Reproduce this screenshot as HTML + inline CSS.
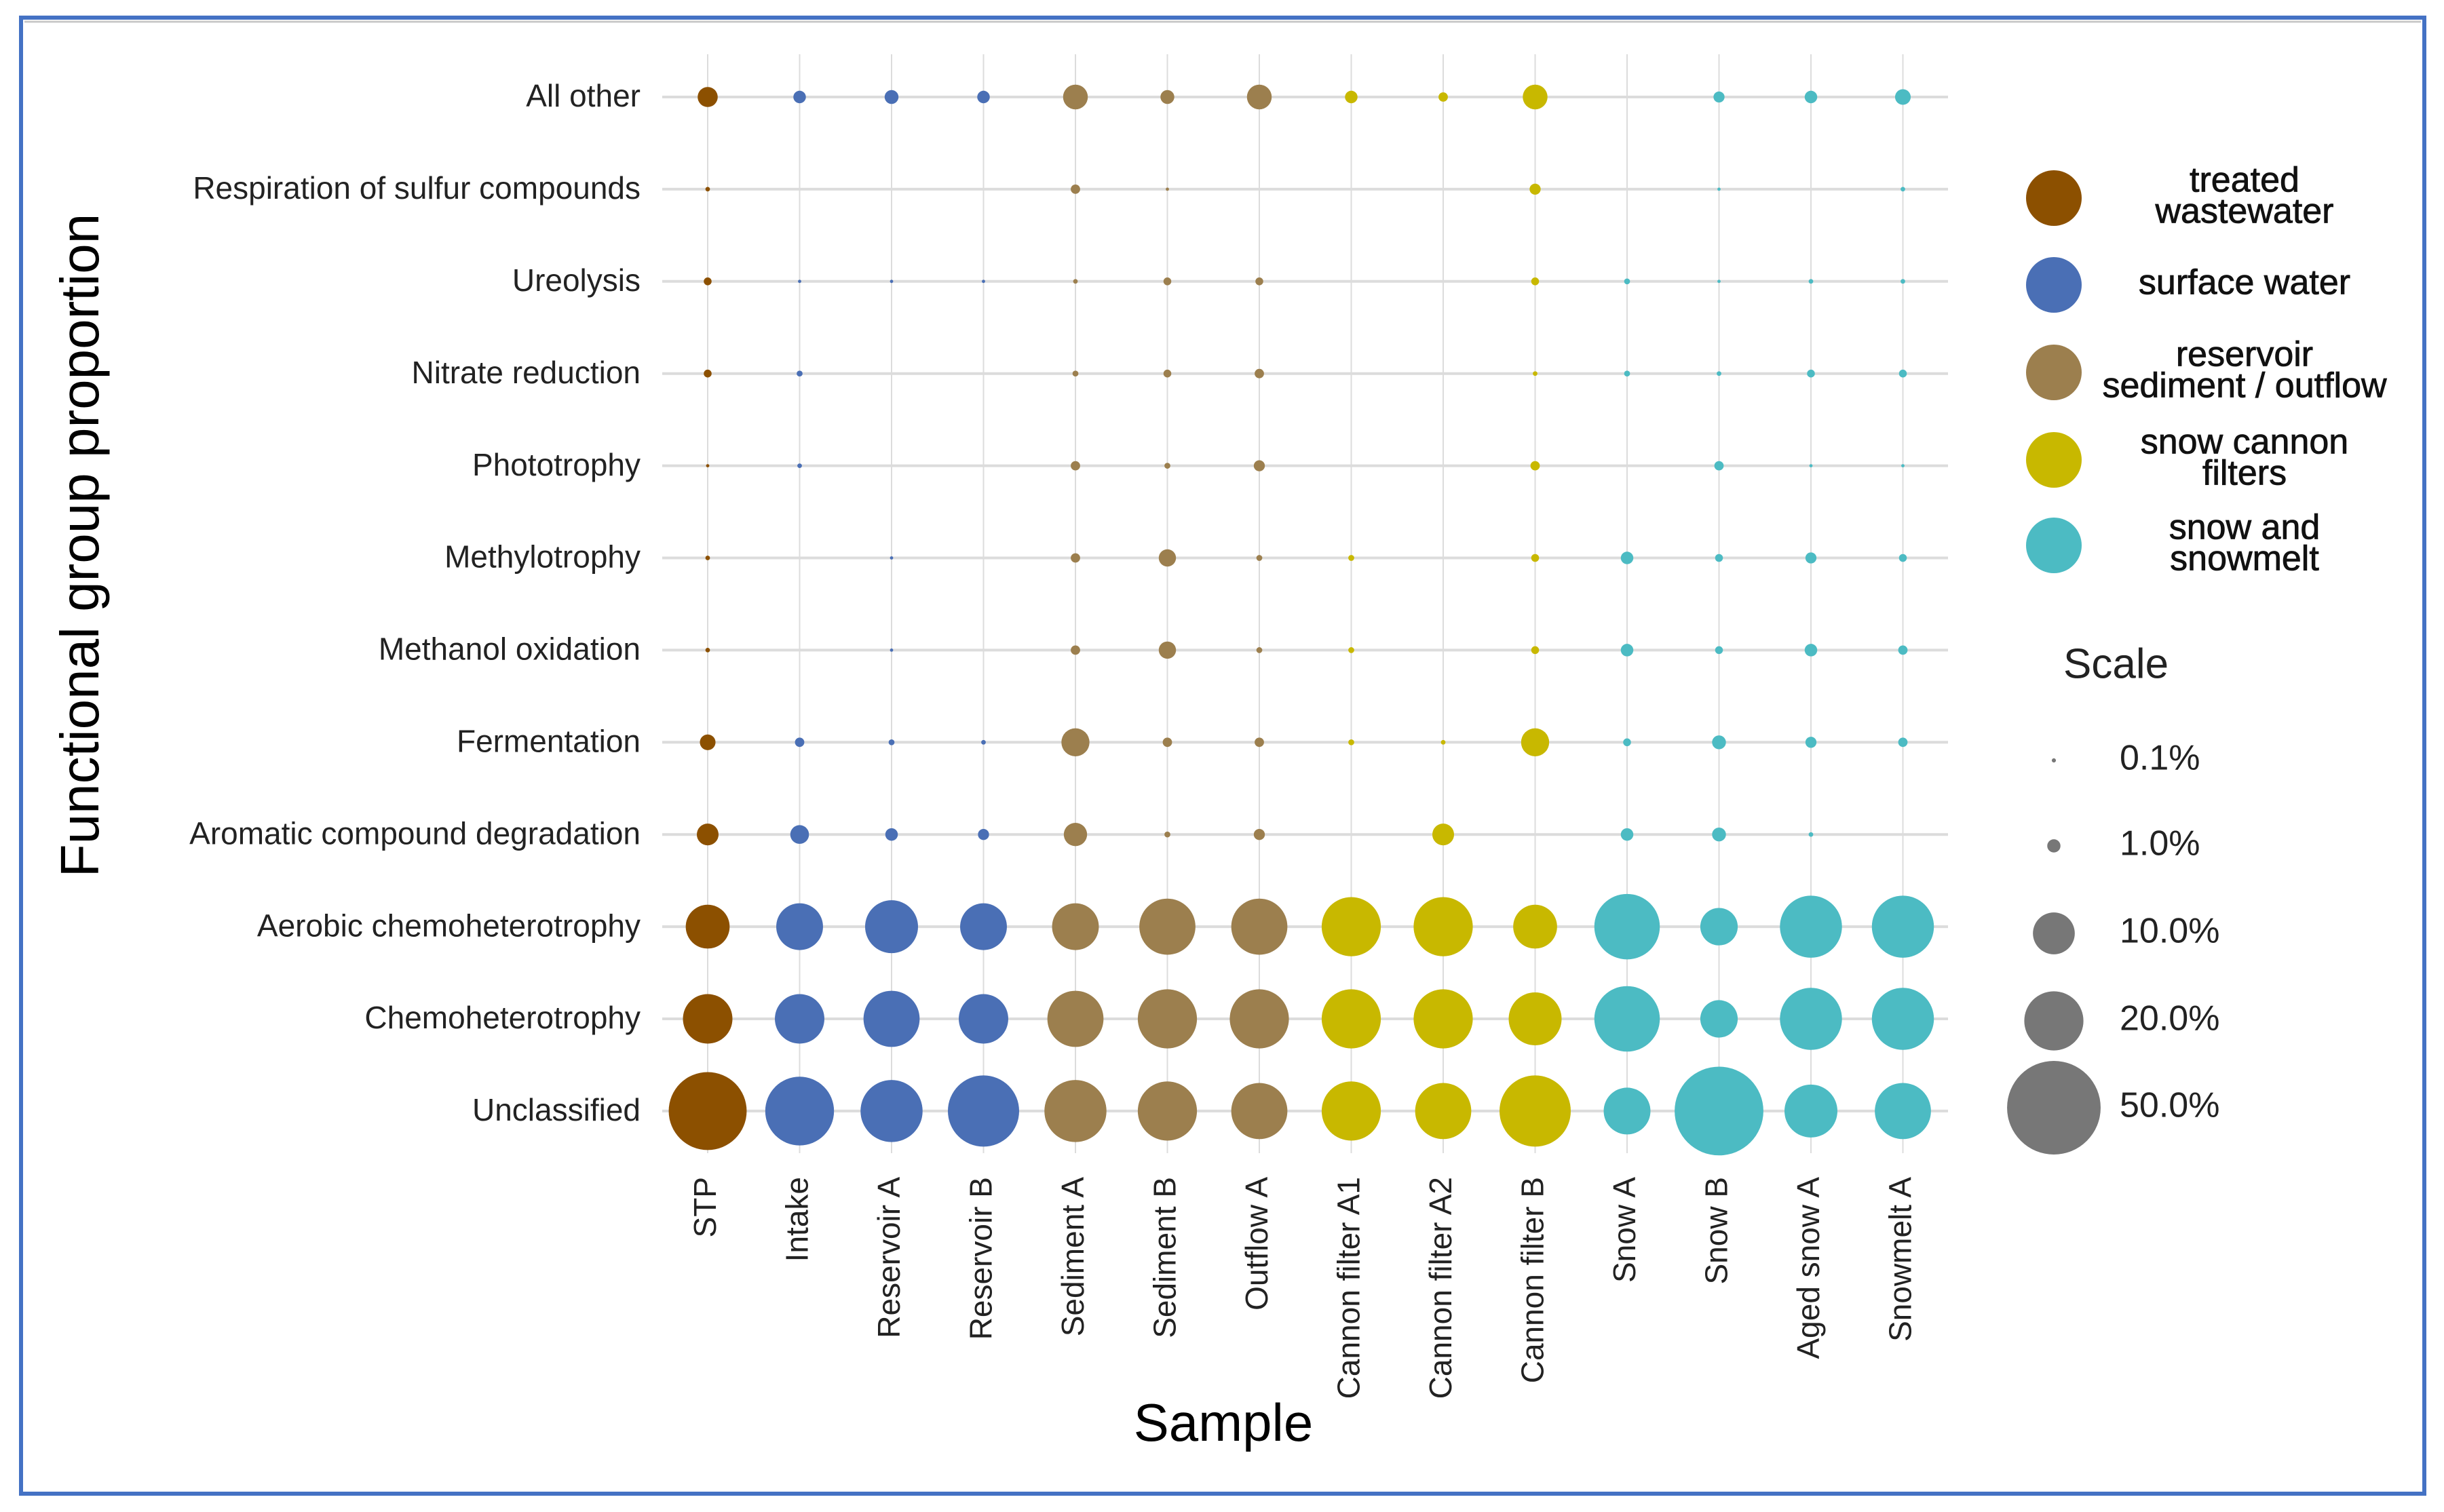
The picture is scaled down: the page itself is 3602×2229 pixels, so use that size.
<!DOCTYPE html>
<html><head><meta charset="utf-8"><style>
html,body{margin:0;padding:0;background:#fff;}
svg{display:block;font-family:"Liberation Sans",Arial,sans-serif;}
</style></head><body>
<svg id="chart" width="3602" height="2229" viewBox="0 0 3602 2229" xmlns="http://www.w3.org/2000/svg">
<rect x="0" y="0" width="3602" height="2229" fill="#fff"/>
<rect x="31" y="26" width="3542" height="2176" fill="none" stroke="#4472c4" stroke-width="6"/>
<line x1="36" y1="32" x2="3568" y2="32" stroke="#c8c8c8" stroke-width="3"/>
<g id="grid"></g>
<g id="marks"></g>
<g id="ylabels"></g>
<g id="xlabels"></g>
<text x="124" y="804" transform="rotate(-90 124 804)" text-anchor="middle" dominant-baseline="middle" font-size="80" fill="#000">Functional group proportion</text>
<text x="1803" y="2124" text-anchor="middle" font-size="78" fill="#000">Sample</text>
<g id="legend"></g>
</svg>
<script>
const samples=["STP","Intake","Reservoir A","Reservoir B","Sediment A","Sediment B","Outflow A","Cannon filter A1","Cannon filter A2","Cannon filter B","Snow A","Snow B","Aged snow A","Snowmelt A"];
const sampleGroup=[0,1,1,1,2,2,2,3,3,3,4,4,4,4];
const groups=["treated\nwastewater","surface water","reservoir\nsediment / outflow","snow cannon\nfilters","snow and\nsnowmelt"];
const groupColors=["#8c5000","#4a6fb5","#9c7f4e","#c8b800","#4cbbc3"];
const functions=["All other","Respiration of sulfur compounds","Ureolysis","Nitrate reduction","Phototrophy","Methylotrophy","Methanol oxidation","Fermentation","Aromatic compound degradation","Aerobic chemoheterotrophy","Chemoheterotrophy","Unclassified"];
const vAllOther=[2.3,0.9,1.1,0.9,3.5,1.1,3.5,0.9,0.5,3.5,0,0.7,0.9,1.4];
const vSulfur=[0.12,0,0,0,0.5,0.06,0,0,0,0.7,0,0.06,0,0.12];
const vUreolysis=[0.35,0.06,0.06,0.06,0.12,0.35,0.35,0,0,0.35,0.2,0.06,0.12,0.12];
const vNitrate=[0.35,0.2,0,0,0.2,0.35,0.5,0,0,0.12,0.2,0.12,0.35,0.35];
const vPhoto=[0.06,0.12,0,0,0.5,0.2,0.7,0,0,0.5,0,0.5,0.06,0.06];
const vMethylo=[0.12,0,0.06,0,0.5,1.7,0.2,0.2,0,0.35,0.9,0.35,0.7,0.35];
const vMethanol=[0.12,0,0.06,0,0.5,1.7,0.2,0.2,0,0.35,0.9,0.35,0.9,0.5];
const vFerment=[1.4,0.5,0.2,0.12,4.5,0.5,0.5,0.2,0.12,4.5,0.35,1.1,0.7,0.5];
const vAromatic=[2.7,2,0.9,0.7,3.1,0.2,0.7,0,2.7,0,0.9,1.1,0.12,0];
const vAerobic=[11,12.5,16,12.5,12.5,18,18,20,20,11,24.5,8,22,22];
const vChemo=[14,14,18,14,18,20,20,20,20,16,24.5,8,22,22];
const vUnclass=[34.7,27,22,29,22,20,18,20,18,29,12.5,45,16,18];
const values=[vAllOther,vSulfur,vUreolysis,vNitrate,vPhoto,vMethylo,vMethanol,vFerment,vAromatic,vAerobic,vChemo,vUnclass];
const scaleVals=[0.1,1,10,20,50];
const scaleLabels=["0.1%","1.0%","10.0%","20.0%","50.0%"];

const NS="http://www.w3.org/2000/svg";
function mk(tag,attrs,parent){const e=document.createElementNS(NS,tag);for(const k in attrs)e.setAttribute(k,attrs[k]);parent.appendChild(e);return e;}
const x0=1043,xStep=135.5,y0=143,yStep=135.9;
function xPos(i){return x0+i*xStep;}
function yPos(j){return y0+j*yStep;}
function diam(p){return 19.5*Math.sqrt(p);}
const grid=document.getElementById('grid'),marks=document.getElementById('marks');
const yl=document.getElementById('ylabels'),xl=document.getElementById('xlabels'),lg=document.getElementById('legend');
functions.forEach((f,j)=>{
  const l=mk('line',{x1:976,x2:2871,y1:yPos(j),y2:yPos(j),stroke:'#dcdcdc','stroke-width':4},grid);
  
  
  const t=mk('text',{x:944,y:yPos(j)+2,'text-anchor':'end','dominant-baseline':'middle','font-size':46,fill:'#222'},yl);
  t.textContent=f;
  
  
});
samples.forEach((s,i)=>{
  const l=mk('line',{x1:xPos(i),x2:xPos(i),y1:80,y2:1700,stroke:'#dcdcdc','stroke-width':2},grid);
  
  
  const t=mk('text',{x:xPos(i),y:1735,'text-anchor':'end','dominant-baseline':'middle','font-size':46,fill:'#222',transform:`rotate(-90 ${xPos(i)} 1735)`},xl);
  t.textContent=s;
  
  
});
values.forEach((row,j)=>{row.forEach((v,i)=>{
  if(v<=0)return;
  const c=mk('circle',{cx:xPos(i),cy:yPos(j),r:diam(v)/2,fill:groupColors[sampleGroup[i]]},marks);
  
  
});});
const lgY=[292,420,549,678,804];
groups.forEach((g,k)=>{
  const c=mk('circle',{cx:3027,cy:lgY[k],r:41,fill:groupColors[k]},lg);
  
  
  const lines=g.split('\n');
  lines.forEach((ln,q)=>{
    const off=lines.length===1?0:(q===0?-23:23);
    const t=mk('text',{x:3308,y:lgY[k]+off,'text-anchor':'middle','dominant-baseline':'middle','font-size':52,fill:'#111',stroke:'#111','stroke-width':0.8},lg);
    t.textContent=ln;
    
    
  });
});
const st=mk('text',{x:3041,y:983,'dominant-baseline':'middle','font-size':62,fill:'#222'},lg);
st.textContent='Scale';


const sY=[1121,1247,1376,1505,1633];
scaleVals.forEach((v,k)=>{
  const c=mk('circle',{cx:3027,cy:sY[k],r:diam(v)/2,fill:'#777'},lg);
  
  
  const t=mk('text',{x:3124,y:sY[k],'dominant-baseline':'middle','font-size':52,fill:'#222'},lg);
  t.textContent=scaleLabels[k];
  
  
});
</script>
</body></html>
